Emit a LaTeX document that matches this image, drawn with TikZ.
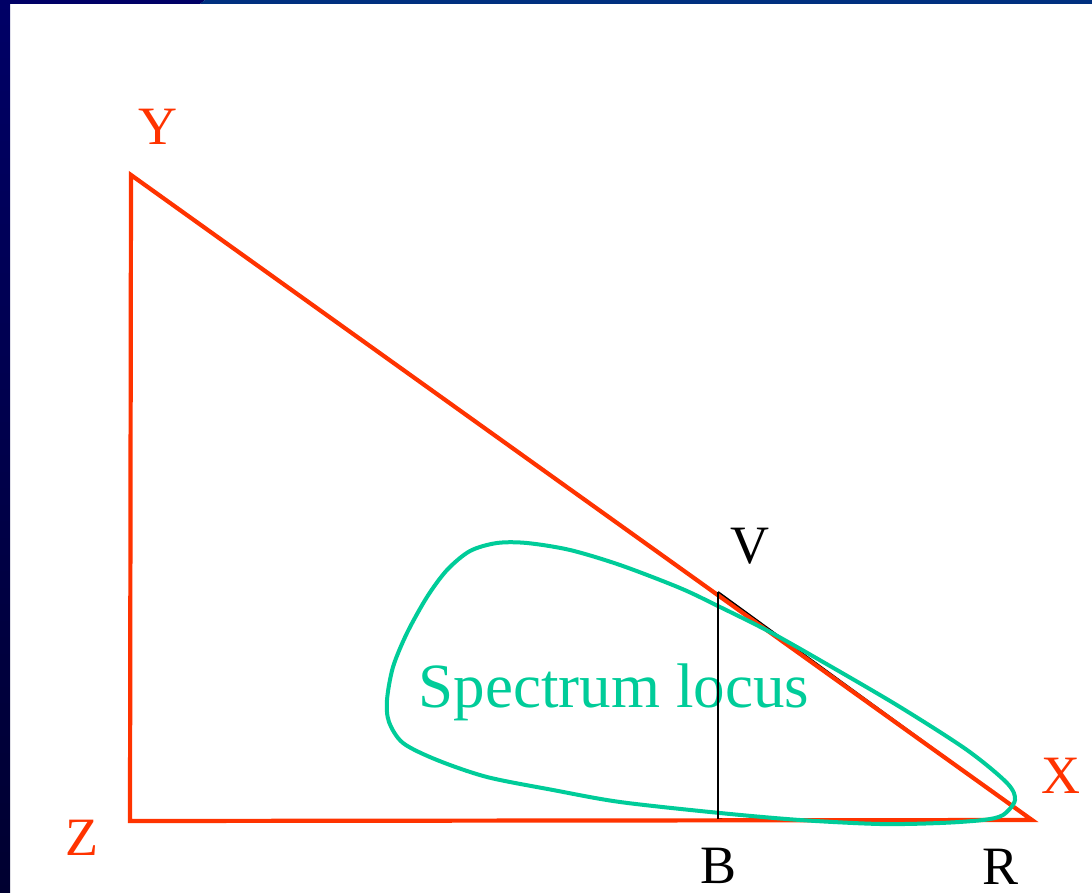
\documentclass[tikz,border=0pt]{standalone}
\usepackage{fontspec}
\setmainfont{Liberation Serif}
\definecolor{cred}{HTML}{FF3300}
\definecolor{cgreen}{HTML}{00CC99}
\definecolor{navy}{HTML}{000066}
\definecolor{navydark}{HTML}{000030}
\definecolor{navyblue}{HTML}{00307F}
\begin{document}
\begin{tikzpicture}[x=1pt,y=-1pt,
  lbl/.style={font=\fontsize{54}{60}\selectfont, inner sep=0pt, anchor=base},
  redlbl/.style={lbl, text=cred},
  blklbl/.style={lbl, text=black},
  redline/.style={draw=cred, line width=4.2pt, line join=miter},
  blkline/.style={draw=black, line width=2pt},
  locus/.style={draw=cgreen, line width=4pt}]
\useasboundingbox (0,0) rectangle (1092,893);
\fill[white] (0,0) rectangle (1092,893);
% frame
\shade[top color=navy, bottom color=navydark] (0,0) rectangle (10,893);
\fill[navy] (0,0) -- (205,0) -- (200,4) -- (0,4) -- cycle;
\fill[navyblue] (205,0) -- (1092,0) -- (1092,4) -- (200,4) -- cycle;
% corners
\coordinate (Zc) at (130,821);
\coordinate (Yc) at (131,175);
\coordinate (Xc) at (1032,820);
\coordinate (Vc) at (718,592);
\coordinate (Bc) at (718,819);
\coordinate (Rc) at (1030,819);
% black triangle
\draw[blkline] (Vc) -- (Rc) -- (Bc);
% red triangle
\draw[redline] (Yc) -- (Zc) -- (Xc) -- cycle;
% spectrum locus
\draw[locus] plot[smooth cycle, tension=0.5] coordinates {
 (1015,800) (1003,815) (983,820) (940,823) (880,824) (800,820) (720,813)
 (620,802) (553,790) (487,777) (437,760) (403,743) (389,722) (387,700)
 (393,667) (407,633) (427,597) (447,570) (470,551) (497,543) (527,543)
 (570,550) (620,565) (680,588) (720,607) (770,632) (830,666) (900,707)
 (967,750) (1007,783)};
\node[font=\fontsize{63}{70}\selectfont, text=cgreen, inner sep=0pt, anchor=base] (locuslbl) at (614,707) {Spectrum locus};
% black vertical on top of text
\draw[blkline] (Vc) -- (Bc);
% labels
\node[redlbl] (Ylbl) at (158,145) {Y};
\node[redlbl] (Zlbl) at (82,855) {Z};
\node[redlbl] (Xlbl) at (1061,793) {X};
\node[blklbl] (Vlbl) at (750,563) {V};
\node[blklbl] (Blbl) at (718,883) {B};
\node[blklbl] (Rlbl) at (1000,884) {R};
\end{tikzpicture}
\end{document}
